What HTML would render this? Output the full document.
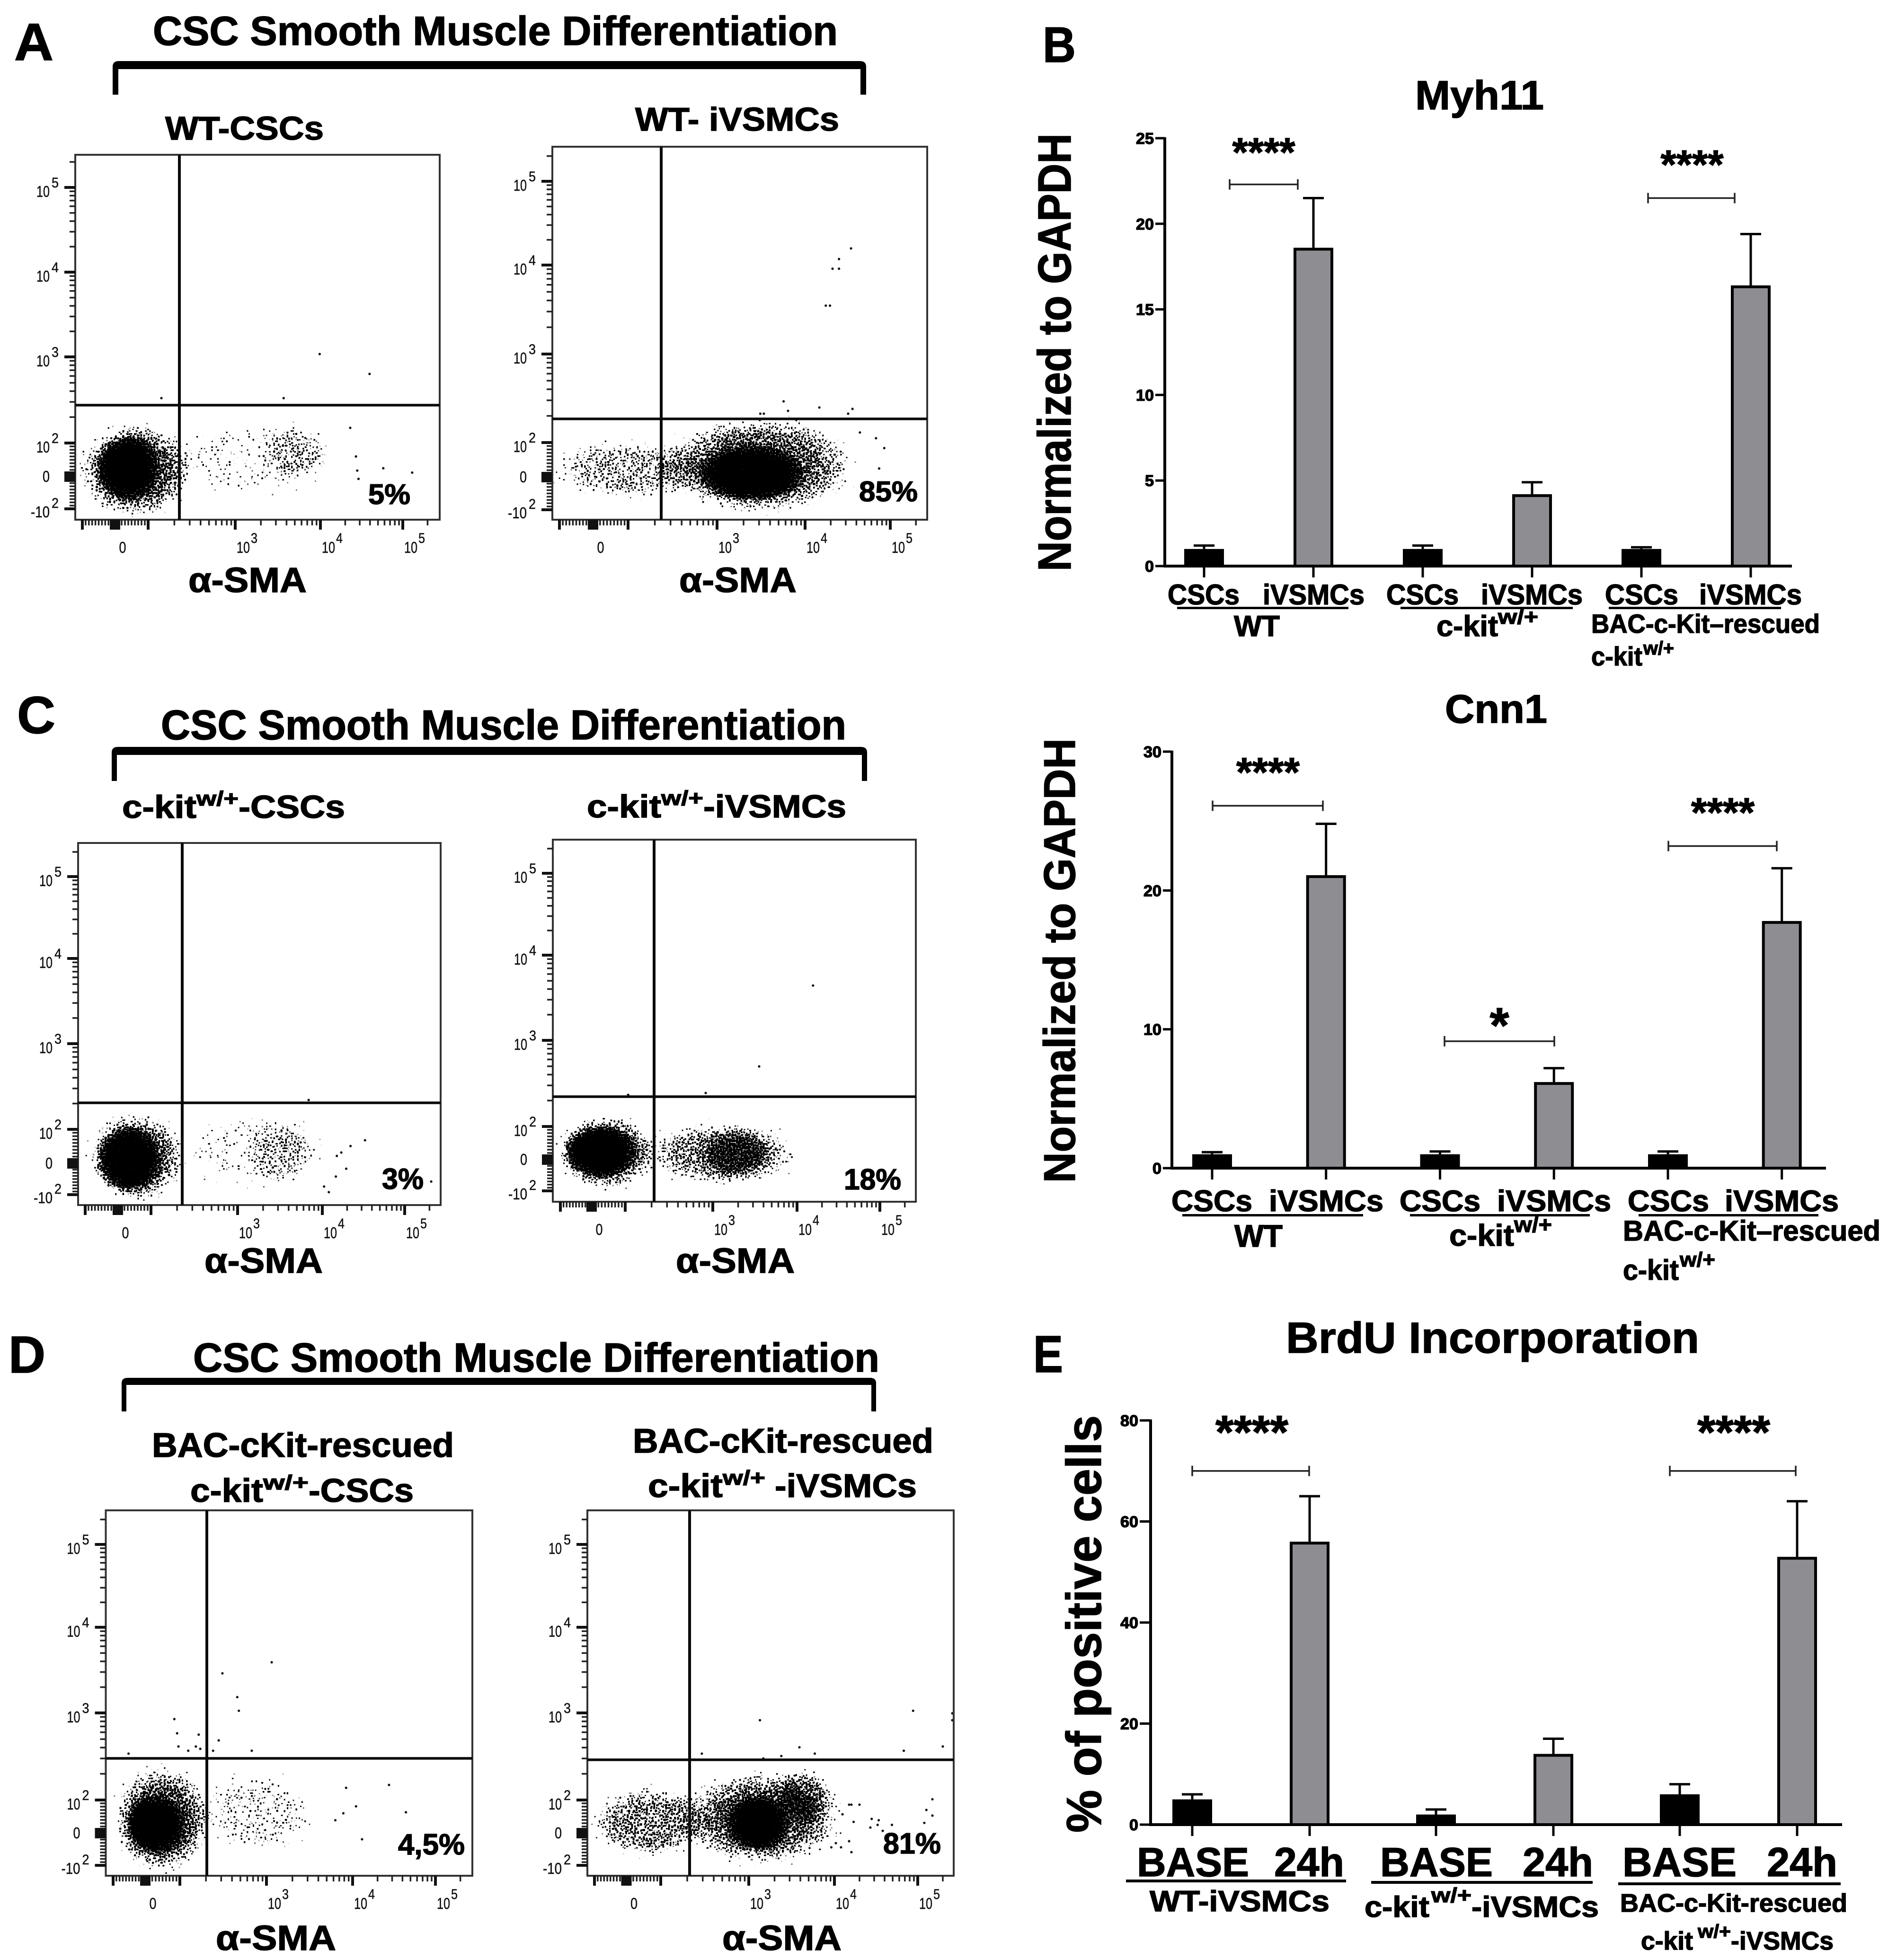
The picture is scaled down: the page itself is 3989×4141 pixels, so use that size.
<!DOCTYPE html>
<html lang="en">
<head>
<meta charset="utf-8">
<title>CSC Smooth Muscle Differentiation Figure</title>
<style>
html,body{margin:0;padding:0;background:#fff;}
svg{display:block;}
text{font-family:"Liberation Sans",Arial,sans-serif;font-weight:700;fill:#000;stroke:#000;stroke-width:1.5px;}
.tick{font-weight:400;fill:#111;stroke:#111;stroke-width:.5px;}
</style>
</head>
<body>
<svg id="figure" xmlns="http://www.w3.org/2000/svg" width="3989" height="4141" viewBox="0 0 3989 4141">
<defs>
<radialGradient id="cloudGrad"><stop offset="0" stop-color="#000" stop-opacity="1"/><stop offset=".55" stop-color="#000" stop-opacity="1"/><stop offset="1" stop-color="#000" stop-opacity="0"/></radialGradient>
<filter id="stipple" color-interpolation-filters="sRGB">
<feTurbulence type="fractalNoise" baseFrequency="0.32" numOctaves="1" seed="7" result="t"/>
<feColorMatrix in="t" type="matrix" values="0 0 0 0 0  0 0 0 0 0  0 0 0 0 0  0 0 0 2.2 -0.4" result="n"/>
<feComposite in="SourceGraphic" in2="n" operator="arithmetic" k1="0" k2="16" k3="-16" k4="0" result="thr"/>
<feMorphology in="thr" operator="dilate" radius="1"/>
</filter>
</defs>
<rect width="3989" height="4141" fill="#fff"/>

<!-- Panel letters -->
<text x="30" y="127" font-size="111" textLength="83">A</text>
<text x="2203" y="131" font-size="106" textLength="70">B</text>
<text x="36" y="1549" font-size="110" textLength="81">C</text>
<text x="18" y="2900" font-size="110" textLength="78">D</text>
<text x="2183" y="2899" font-size="110" textLength="63">E</text>

<!-- Panel A heading -->
<text x="323" y="95" font-size="86" textLength="1447">CSC Smooth Muscle Differentiation</text>
<path d="M238 200L238 141Q238 129 251 129L1817 129Q1830 129 1830 141L1830 200L1818 200L1818 146L250 146L250 200Z" fill="#000"/>
<text x="349" y="295" font-size="70" textLength="335">WT-CSCs</text>
<text x="1342" y="276" font-size="70" textLength="431">WT- iVSMCs</text>
<text x="398" y="1251" font-size="74" textLength="250">α-SMA</text>
<text x="1435" y="1251" font-size="74" textLength="248">α-SMA</text>

<!-- Panel C heading -->
<text x="340" y="1562" font-size="88" textLength="1448">CSC Smooth Muscle Differentiation</text>
<path d="M236 1650L236 1590Q236 1578 249 1578L1819 1578Q1832 1578 1832 1590L1832 1650L1821 1650L1821 1595L247 1595L247 1650Z" fill="#000"/>
<text x="258" y="1728" font-size="68" textLength="157">c-kit</text>
<text x="415" y="1702" font-size="44" textLength="89">w/+</text>
<text x="504" y="1728" font-size="68" textLength="225">-CSCs</text>
<text x="1240" y="1727" font-size="68" textLength="157">c-kit</text>
<text x="1397" y="1701" font-size="44" textLength="89">w/+</text>
<text x="1486" y="1727" font-size="68" textLength="302">-iVSMCs</text>
<text x="432" y="2689" font-size="74" textLength="250">α-SMA</text>
<text x="1428" y="2689" font-size="74" textLength="251">α-SMA</text>

<!-- Panel D heading -->
<text x="408" y="2898" font-size="86" textLength="1450">CSC Smooth Muscle Differentiation</text>
<path d="M257 2982L257 2922Q257 2911 270 2911L1838 2911Q1851 2911 1851 2922L1851 2982L1841 2982L1841 2926L267 2926L267 2982Z" fill="#000"/>
<text x="321" y="3078" font-size="72" textLength="638">BAC-cKit-rescued</text>
<text x="1337" y="3069" font-size="72" textLength="635">BAC-cKit-rescued</text>
<text x="402" y="3173" font-size="70" textLength="154">c-kit</text>
<text x="556" y="3147" font-size="44" textLength="96">w/+</text>
<text x="652" y="3173" font-size="70" textLength="222">-CSCs</text>
<text x="1369" y="3163" font-size="70" textLength="158">c-kit</text>
<text x="1527" y="3137" font-size="44" textLength="90">w/+</text>
<text x="1637" y="3163" font-size="70" textLength="300">-iVSMCs</text>
<text x="456" y="4120" font-size="74" textLength="254">α-SMA</text>
<text x="1526" y="4120" font-size="74" textLength="252">α-SMA</text>

<!-- Panel B Myh11 labels -->
<text x="2990" y="231" font-size="86" textLength="272">Myh11</text>
<text x="2262" y="1207" font-size="98" textLength="925" transform="rotate(-90 2262 1207)">Normalized to GAPDH</text>
<text x="2467" y="1277" font-size="60" textLength="152">CSCs</text>
<text x="2668" y="1277" font-size="60" textLength="215">iVSMCs</text>
<rect x="2487" y="1282" width="362" height="5" fill="#000"/>
<text x="2607" y="1344" font-size="62" textLength="97">WT</text>
<text x="2929" y="1277" font-size="60" textLength="153">CSCs</text>
<text x="3129" y="1277" font-size="60" textLength="215">iVSMCs</text>
<rect x="2959" y="1282" width="364" height="5" fill="#000"/>
<text x="3035" y="1344" font-size="62" textLength="130">c-kit</text>
<text x="3165" y="1318" font-size="44" textLength="85">w/+</text>
<text x="3391" y="1277" font-size="60" textLength="155">CSCs</text>
<text x="3590" y="1277" font-size="60" textLength="217">iVSMCs</text>
<rect x="3399" y="1282" width="364" height="5" fill="#000"/>
<text x="3362" y="1337" font-size="56" textLength="483">BAC-c-Kit–rescued</text>
<text x="3362" y="1406" font-size="56" textLength="108">c-kit</text>
<text x="3472" y="1383" font-size="40" textLength="65">w/+</text>

<!-- Panel B Cnn1 labels -->
<text x="3053" y="1527" font-size="84" textLength="216">Cnn1</text>
<text x="2271" y="2499" font-size="94" textLength="939" transform="rotate(-90 2271 2499)">Normalized to GAPDH</text>
<text x="2475" y="2559" font-size="63" textLength="171">CSCs</text>
<text x="2681" y="2559" font-size="63" textLength="242">iVSMCs</text>
<rect x="2498" y="2565" width="382" height="5" fill="#000"/>
<text x="2608" y="2634" font-size="66" textLength="102">WT</text>
<text x="2957" y="2559" font-size="63" textLength="171">CSCs</text>
<text x="3163" y="2559" font-size="63" textLength="241">iVSMCs</text>
<rect x="2979" y="2565" width="380" height="5" fill="#000"/>
<text x="3062" y="2632" font-size="64" textLength="137">c-kit</text>
<text x="3199" y="2603" font-size="46" textLength="80">w/+</text>
<text x="3439" y="2559" font-size="63" textLength="172">CSCs</text>
<text x="3644" y="2559" font-size="63" textLength="241">iVSMCs</text>
<rect x="3462" y="2565" width="380" height="5" fill="#000"/>
<text x="3429" y="2621" font-size="60" textLength="544">BAC-c-Kit–rescued</text>
<text x="3429" y="2704" font-size="60" textLength="118">c-kit</text>
<text x="3549" y="2676" font-size="44" textLength="75">w/+</text>

<!-- Panel E labels -->
<text x="2717" y="2858" font-size="92" textLength="873">BrdU Incorporation</text>
<text x="2326" y="3872" font-size="104" textLength="882" transform="rotate(-90 2326 3872)">% of positive cells</text>
<text x="2402" y="3964" font-size="86" textLength="237">BASE</text>
<text x="2692" y="3964" font-size="86" textLength="148">24h</text>
<rect x="2379" y="3971" width="465" height="6" fill="#000"/>
<text x="2429" y="4038" font-size="62" textLength="380">WT-iVSMCs</text>
<text x="2916" y="3964" font-size="86" textLength="238">BASE</text>
<text x="3217" y="3964" font-size="86" textLength="149">24h</text>
<rect x="2897" y="3974" width="468" height="6" fill="#000"/>
<text x="2883" y="4050" font-size="62" textLength="137">c-kit</text>
<text x="3024" y="4019" font-size="44" textLength="85">w/+</text>
<text x="3109" y="4050" font-size="62" textLength="269">-iVSMCs</text>
<text x="3428" y="3964" font-size="86" textLength="241">BASE</text>
<text x="3733" y="3964" font-size="86" textLength="149">24h</text>
<rect x="3419" y="3977" width="470" height="6" fill="#000"/>
<text x="3423" y="4039" font-size="54" textLength="480">BAC-c-Kit-rescued</text>
<text x="3467" y="4119" font-size="54" textLength="110">c-kit</text>
<text x="3587" y="4094" font-size="40" textLength="70">w/+</text>
<text x="3657" y="4119" font-size="54" textLength="217">-iVSMCs</text>

<g id="charts"></g>
</svg>

<script>
/* ---------- Bar chart data ---------- */
const myh11Categories = ['WT CSCs','WT iVSMCs','c-kit CSCs','c-kit iVSMCs','BAC CSCs','BAC iVSMCs'];
const myh11Means = [1, 18.6, 1, 4.2, 1, 16.4];
const myh11Upper = [1.2, 21.5, 1.2, 4.9, 1.1, 19.4];
const myh11Ticks = [0, 5, 10, 15, 20, 25];

const cnn1Categories = ['WT CSCs','WT iVSMCs','c-kit CSCs','c-kit iVSMCs','BAC CSCs','BAC iVSMCs'];
const cnn1Means = [1, 21.1, 1, 6.2, 1, 17.8];
const cnn1Upper = [1.15, 24.8, 1.2, 7.2, 1.2, 21.6];
const cnn1Ticks = [0, 10, 20, 30];

const brduCategories = ['WT BASE','WT 24h','c-kit BASE','c-kit 24h','BAC BASE','BAC 24h'];
const brduMeans = [5, 56, 2, 14, 6, 53];
const brduUpper = [6, 65, 3, 17, 8, 64];
const brduTicks = [0, 20, 40, 60, 80];

/* significance: bracket value, star text */
const myh11SigValues = [22.3, 21.5];
const myh11SigStars = ['****', '****'];
const cnn1SigValues = [26.1, 9.14, 23.2];
const cnn1SigStars = ['****', '*', '****'];
const brduSigValues = [70, 70];
const brduSigStars = ['****', '****'];

/* ---------- Flow cytometry data (fluorescence units; [x, y]) ---------- */
const a1Points = [[9800,1080],[39500,634],[3700,332],[142,332],[58000,25],[130000,12],[28000,18],[27000,60],[29000,-7],[23000,150]];
const a2Points = [[34600,15800],[25000,11800],[21000,9100],[25000,9100],[17500,3500],[19600,3500],[5700,292],[14700,249],[36000,240],[32000,212],[6400,228],[3100,212],[3400,212],[85000,84],[74000,25],[68000,112],[44000,130]];
const c1Points = [[6900,220],[33000,68],[22000,51],[17000,32],[19500,-17],[210000,-58],[14600,-42],[12000,-92],[15000,22],[10500,-74]];
const c2Points = [[15600,4400],[3550,498],[830,245],[108,233]];
const d1Points = [[1150,3900],[310,2900],[460,1530],[480,1060],[84,850],[92,584],[165,563],[281,484],[96,412],[153,412],[125,368],[172,387],[242,368],[676,368],[-52,341],[8400,138],[27500,149],[11000,81],[7800,60],[6300,39],[44000,63],[13000,-19]];
const d2Points = [[1350,825],[88000,1060],[260000,990],[260000,825],[293,341],[3900,403],[5900,341],[68000,368],[200000,412],[2400,320],[1480,300],[150000,102],[127000,70],[150000,53],[120000,31],[28000,43],[34000,39],[27000,17],[33000,25],[49000,25],[38000,7],[20000,86],[16000,86],[15000,86],[12500,57],[17000,34],[15000,-25],[16000,-59],[10400,-31],[9200,-44],[12000,-44]];

/* density regions: [xLow, xHigh, yLow, yHigh, density] */
const a1Clouds = [[-61,140,-81,130,.95],[-125,360,-138,190,.56],[150,16000,-75,190,.17],[1900,15000,-20,190,.2]];
const a2Clouds = [[560,11000,-80,98,.95],[190,50000,-125,215,.52],[-145,900,-80,115,.32]];
const c1Clouds = [[-70,139,-98,114,.95],[-105,280,-135,175,.52],[170,13000,-90,150,.17],[1200,9000,-85,165,.19]];
const c2Clouds = [[-98,143,-64,106,.95],[-125,250,-108,150,.54],[130,14000,-95,125,.41],[640,5300,-60,93,.42]];
const d1Clouds = [[-66,121,-69,118,.95],[-115,260,-135,270,.56],[170,3800,-85,240,.23]];
const d2Clouds = [[525,3200,-60,118,.95],[150,15000,-110,235,.54],[2000,10000,19,260,.36],[-130,420,-88,155,.42]];

const flowAnchorValues = [-100, 0, 100, 1000, 10000, 100000];
const flowXDecades = [[1000,'3'],[10000,'4'],[100000,'5']];
const flowYDecades = [[100,'2'],[1000,'3'],[10000,'4'],[100000,'5']];
const flowPercents = ['5%','85%','3%','18%','4,5%','81%'];

/* ---------- Helpers ---------- */
const SVGNS = 'http://www.w3.org/2000/svg';
const chartsLayer = document.getElementById('charts');
function mk(tag, attrs, parent) {
  const el = document.createElementNS(SVGNS, tag);
  for (const k in attrs) el.setAttribute(k, attrs[k]);
  (parent || chartsLayer).appendChild(el);
  return el;
}
function mkLabel(x, y, str, size, len, anchor, cls, parent) {
  const el = mk('text', {x:x, y:y, 'font-size':size}, parent);
  if (len) el.setAttribute('textLength', len);
  if (anchor) el.setAttribute('text-anchor', anchor);
  if (cls) el.setAttribute('class', cls);
  el.textContent = str;
  return el;
}

/* ---------- Bar charts ---------- */
function drawBarChart(name, layout, categories, means, upper, ticks, sigValues, sigStars) {
  const g = mk('g', {});
  
  
  const yScale = v => layout.zero - v / layout.max * (layout.zero - layout.top);
  const xScale = i => layout.x0 + Math.floor(i / 2) * layout.group + (i % 2) * layout.inner;

  const yAxis = mk('line', {x1:layout.axisX, x2:layout.axisX, y1:layout.top - 2, y2:layout.zero, stroke:'#000', 'stroke-width':6}, g);
  
  

  ticks.forEach(t => {
    const tk = mk('line', {x1:layout.left, x2:layout.axisX, y1:yScale(t), y2:yScale(t), stroke:'#000', 'stroke-width':5}, g);
    
    
    const s = String(t);
    const lb = mkLabel(layout.left - 3, yScale(t) + 12, s, 33, s.length * 19, 'end', null, g);
    
    
  });

  categories.forEach((c, i) => {
    const x = xScale(i);
    const gray = i % 2 === 1;
    const w = 78;
    const err = mk('line', {x1:x, x2:x, y1:yScale(upper[i]), y2:yScale(means[i]), stroke:'#000', 'stroke-width':5}, g);
    
    
    const cap = mk('line', {x1:x - 22, x2:x + 22, y1:yScale(upper[i]), y2:yScale(upper[i]), stroke:'#000', 'stroke-width':5}, g);
    
    
    const bar = mk('rect', {x:x - w / 2, y:yScale(means[i]) + 3, width:w, height:layout.zero - yScale(means[i]) - 3, fill:gray ? '#8e8d92' : '#000', stroke:'#000', 'stroke-width':6}, g);
    
    
    const tick = mk('line', {x1:x, x2:x, y1:layout.zero, y2:layout.zero + 24, stroke:'#000', 'stroke-width':5}, g);
    
    
  });

  const xAxis = mk('line', {x1:layout.axisX - 3, x2:layout.end, y1:layout.zero, y2:layout.zero, stroke:'#000', 'stroke-width':6}, g);
  
  

  sigValues.forEach((v, i) => {
    const sp = layout.sig[i];
    const y = yScale(v);
    const line = mk('path', {d:'M' + sp.x1 + ' ' + (y - 11) + 'V' + (y + 11) + 'M' + sp.x1 + ' ' + y + 'H' + sp.x2 + 'M' + sp.x2 + ' ' + (y - 11) + 'V' + (y + 11), stroke:'#222', 'stroke-width':3.5, fill:'none'}, g);
    
    
    const st = mkLabel(sp.sx, sp.sy, sigStars[i], sp.size, sp.len, 'middle', null, g);
    
    
  });
}

drawBarChart('myh11', {zero:1196, top:292, max:25, x0:2544, group:462, inner:231, axisX:2461, left:2441, end:3786,
  sig:[{x1:2598,x2:2742,sx:2670,sy:351,size:85,len:133},{x1:3482,x2:3665,sx:3575,sy:377,size:85,len:133}]},
  myh11Categories, myh11Means, myh11Upper, myh11Ticks, myh11SigValues, myh11SigStars);
drawBarChart('cnn1', {zero:2468, top:1588, max:30, x0:2561, group:481.5, inner:240.7, axisX:2476, left:2457, end:3858,
  sig:[{x1:2562,x2:2795,sx:2679,sy:1661,size:86,len:134},{x1:3052,x2:3284,sx:3168,sy:2202,size:105,len:41},{x1:3525,x2:3754,sx:3640,sy:1746,size:86,len:134}]},
  cnn1Categories, cnn1Means, cnn1Upper, cnn1Ticks, cnn1SigValues, cnn1SigStars);
drawBarChart('brdu', {zero:3855, top:3001, max:80, x0:2519, group:515, inner:248, axisX:2431, left:2408, end:3892,
  sig:[{x1:2519,x2:2766,sx:2645,sy:3060,size:99,len:154},{x1:3528,x2:3794,sx:3663,sy:3060,size:99,len:154}]},
  brduCategories, brduMeans, brduUpper, brduTicks, brduSigValues, brduSigStars);

/* ---------- Flow plots ---------- */
function flowScale(v, anch) {
  if (v <= 0) return anch[1] + v / 100 * (anch[1] - anch[0]);
  if (v <= 100) return anch[1] + v / 100 * (anch[2] - anch[1]);
  const d = Math.log10(v);
  const idx = Math.min(Math.floor(d), 4);
  return anch[idx] + (d - idx) * (anch[idx + 1] - anch[idx]);
}
function flowTickValues() {
  const out = [];
  for (let m = 10; m < 100; m += 10) { out.push(m); out.push(-m); }
  for (let k = 100; k <= 100000; k *= 10) for (let m = 2; m < 10; m++) out.push(m * k);
  return out;
}

function drawFlow(name, cfg, clouds, points, percentText) {
  const g = mk('g', {});
  
  
  const sx = v => flowScale(v, cfg.xA);
  const sy = v => flowScale(v, cfg.yA);
  const L = cfg.l, T = cfg.t, R = cfg.r, B = cfg.b;

  const clip = mk('clipPath', {id:name + '-clip'}, g);
  mk('rect', {x:L, y:T, width:R - L, height:B - T}, clip);
  const clipGroup = mk('g', {'clip-path':'url(#' + name + '-clip)'}, g);
  const cloudGroup = mk('g', {filter:'url(#stipple)'}, clipGroup);
  
  
  clouds.forEach(c => {
    const x1 = sx(c[0]), x2 = sx(c[1]), y1 = sy(c[2]), y2 = sy(c[3]);
    const e = mk('ellipse', {cx:(x1 + x2) / 2, cy:(y1 + y2) / 2, rx:Math.abs(x2 - x1) / 2, ry:Math.abs(y2 - y1) / 2, fill:'url(#cloudGrad)', 'fill-opacity':c[4]}, cloudGroup);
    
    
  });
  points.forEach(p => {
    const d = mk('circle', {cx:sx(p[0]), cy:sy(p[1]), r:2.6, fill:'#111'}, clipGroup);
    
    
  });

  const box = mk('rect', {x:L, y:T, width:R - L, height:B - T, fill:'none', stroke:'#333', 'stroke-width':4}, g);
  
  
  const vg = mk('line', {x1:cfg.vx, x2:cfg.vx, y1:T, y2:B, stroke:'#0a0a0a', 'stroke-width':6}, g);
  
  
  const hg = mk('line', {x1:L, x2:R, y1:cfg.hy, y2:cfg.hy, stroke:'#0a0a0a', 'stroke-width':5.5}, g);
  
  

  /* x axis ticks */
  flowTickValues().forEach(v => {
    const x = sx(v);
    if (x < L + 2 || x > R - 2) return;
    const t = mk('line', {x1:x, x2:x, y1:B, y2:B + 12, stroke:'#222', 'stroke-width':3.5}, g);
    
    
  });
  flowAnchorValues.forEach(v => {
    if (v === 0) return;
    const t = mk('line', {x1:sx(v), x2:sx(v), y1:B, y2:B + 21, stroke:'#111', 'stroke-width':6}, g);
    
    
  });
  const xBlock = mk('rect', {x:sx(0) - 11, y:B, width:22, height:21, fill:'#111'}, g);
  
  

  /* y axis ticks */
  flowTickValues().forEach(v => {
    const y = sy(v);
    if (y < T + 2 || y > B - 2) return;
    const t = mk('line', {x1:L - 12, x2:L, y1:y, y2:y, stroke:'#222', 'stroke-width':3.5}, g);
    
    
  });
  flowAnchorValues.forEach(v => {
    if (v === 0) return;
    const t = mk('line', {x1:L - 23, x2:L, y1:sy(v), y2:sy(v), stroke:'#111', 'stroke-width':6}, g);
    
    
  });
  const yBlock = mk('rect', {x:L - 23, y:sy(0) - 11, width:23, height:22, fill:'#111'}, g);
  
  

  /* tick labels */
  const x0 = mkLabel(sx(0) + 16, B + 70, '0', 33, 15, 'middle', 'tick', g);
  
  
  flowXDecades.forEach(d => {
    const a = mkLabel(sx(d[0]) + 3, B + 70, '10', 33, 28, 'start', 'tick', g);
    
    
    const b = mkLabel(sx(d[0]) + 33, B + 49, d[1], 30, 14, 'start', 'tick', g);
    
    
  });
  flowYDecades.forEach(d => {
    const a = mkLabel(L - 54, sy(d[0]) + 20, '10', 33, 28, 'end', 'tick', g);
    
    
    const b = mkLabel(L - 50, sy(d[0]), d[1], 30, 15, 'start', 'tick', g);
    
    
  });
  const y0 = mkLabel(L - 54, sy(0) + 11, '0', 33, 15, 'end', 'tick', g);
  
  
  const yn = mkLabel(L - 54, sy(-100) + 18, '-10', 33, 40, 'end', 'tick', g);
  
  
  const yne = mkLabel(L - 50, sy(-100) - 2, '2', 30, 15, 'start', 'tick', g);
  
  

  const pct = mkLabel(cfg.px, cfg.py, percentText, cfg.ps, cfg.pl, 'start', null, g);
  
  
}

drawFlow('a1', {l:159,t:327,r:929,b:1098,vx:379,hy:856,xA:[174,243,313,497,677,851],yA:[1075,1007,936,754,575,396],px:778,py:1065,ps:60,pl:89}, a1Clouds, a1Points, flowPercents[0]);
drawFlow('a2', {l:1167,t:310,r:1959,b:1098,vx:1397,hy:885,xA:[1182,1253,1327,1515,1701,1881],yA:[1077,1008,935,748,560,383],px:1815,py:1059,ps:60,pl:124}, a2Clouds, a2Points, flowPercents[1]);
drawFlow('c1', {l:165,t:1781,r:931,b:2546,vx:385,hy:2330,xA:[180,249,319,502,681,855],yA:[2524,2458,2386,2205,2025,1852],px:807,py:2512,ps:62,pl:88}, c1Clouds, c1Points, flowPercents[2]);
drawFlow('c2', {l:1168,t:1774,r:1935,b:2539,vx:1382,hy:2317,xA:[1184,1250,1321,1506,1684,1859],yA:[2516,2450,2380,2198,2018,1845],px:1783,py:2513,ps:62,pl:121}, c2Clouds, c2Points, flowPercents[3]);
drawFlow('d1', {l:223.5,t:3191,r:998,b:3963,vx:437,hy:3715,xA:[239,307,380,563,745,920],yA:[3941,3873,3803,3619,3438,3263],px:841,py:3918,ps:62,pl:141}, d1Clouds, d1Points, flowPercents[4]);
drawFlow('d2', {l:1241,t:3191,r:2015,b:3963,vx:1457,hy:3718,xA:[1256,1323.5,1396,1582,1763,1939],yA:[3941,3873,3803,3619,3438,3263],px:1866,py:3916,ps:62,pl:122}, d2Clouds, d2Points, flowPercents[5]);

document.querySelectorAll('text[textLength]').forEach(t => t.setAttribute('lengthAdjust', 'spacingAndGlyphs'));
</script>
</body>
</html>
